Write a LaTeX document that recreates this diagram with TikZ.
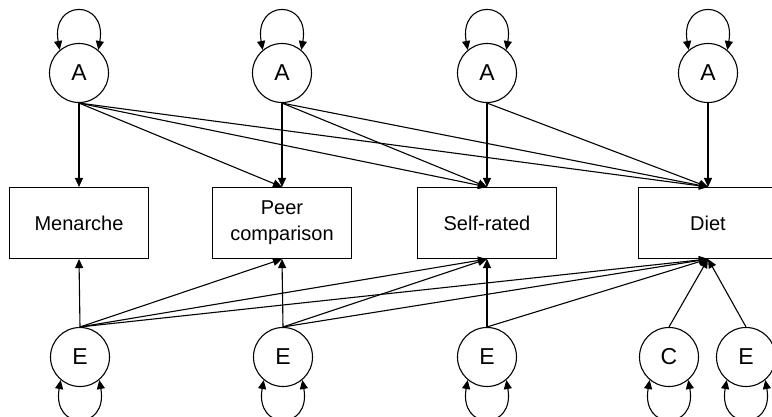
\documentclass[tikz,border=0pt]{standalone}
\usepackage{fontspec}
\setmainfont{Liberation Sans}
\usetikzlibrary{arrows.meta}

\begin{document}
\begin{tikzpicture}[x=1pt, y=1pt, line width=1.1pt,
  latent/.style={draw, circle, minimum size=59pt, inner sep=0pt,
    font=\fontsize{23}{23}\selectfont},
  measure/.style={draw, rectangle, minimum width=139pt, minimum height=71pt,
    inner sep=0pt, align=center, font=\fontsize{20}{26}\selectfont},
  path tip/.style={-{Triangle[length=9pt,width=8pt]}},
  var tip/.style={{Triangle[length=9pt,width=8pt]}-{Triangle[length=9pt,width=8pt]}}]
  \useasboundingbox (0,0) rectangle (772,416);
  \def\yA{343}
  \def\yM{193}
  \def\yE{59}
  % observed measures with their A factors above
  \foreach \x/\name/\txt in {
    79/m/Menarche, 282/p/{Peer\\comparison}, 487/s/Self-rated, 708/d/Diet}
  {
    \node[measure] (\name) at (\x,\yM) {\txt};
    \node[latent] (A\name) at (\x,\yA) {A};
    \draw[var tip] (A\name.130) .. controls +(100:52) and +(80:52) .. (A\name.50);
  }
  % latent factors below
  \foreach \x/\name/\txt in {
    80/Em/E, 283/Ep/E, 487/Es/E, 669/Cd/C, 746/Ed/E}
  {
    \node[latent] (\name) at (\x,\yE) {\txt};
    \draw[var tip] (\name.230) .. controls +(260:52) and +(280:52) .. (\name.310);
  }
  \foreach \a/\b in {m/m, m/p, m/s, m/d, p/p, p/s, p/d, s/s, s/d, d/d}
    \draw[path tip] (A\a.south) -- (\b.north);
  \foreach \a/\b in {m/m, m/p, m/s, m/d, p/p, p/s, p/d, s/s, s/d}
    \draw[path tip] (E\a.north) -- (\b.south);
  \draw[path tip] (Cd.north) -- (d.south);
  \draw[path tip] (Ed.north) -- (d.south);
\end{tikzpicture}
\end{document}
